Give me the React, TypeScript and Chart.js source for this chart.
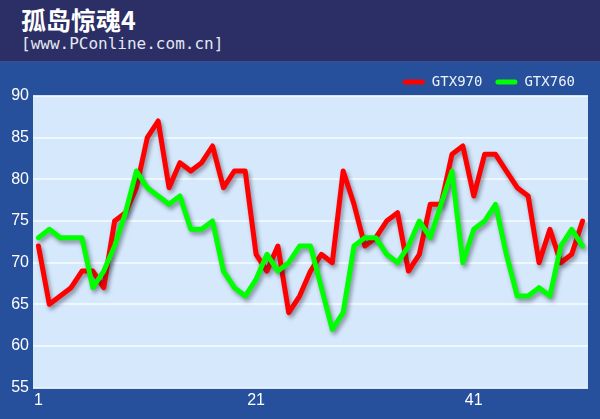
import React, { useEffect, useRef } from "react";
import { Chart, registerables } from "chart.js";

Chart.register(...registerables);

const TITLE = "孤岛惊魂4";
const SUBTITLE = "[www.PConline.com.cn]";

const categories = [
  "1", "2", "3", "4", "5", "6", "7", "8", "9", "10",
  "11", "12", "13", "14", "15", "16", "17", "18", "19", "20",
  "21", "22", "23", "24", "25", "26", "27", "28", "29", "30",
  "31", "32", "33", "34", "35", "36", "37", "38", "39", "40",
  "41", "42", "43", "44", "45", "46", "47", "48", "49", "50",
  "51",
];

const shownXTicks = ["1", "21", "41"];

const gtx970 = [
  72, 65, 66, 67, 69, 69, 67, 75, 76, 79,
  85, 87, 79, 82, 81, 82, 84, 79, 81, 81,
  71, 69, 72, 64, 66, 69, 71, 70, 81, 77,
  72, 73, 75, 76, 69, 71, 77, 77, 83, 84,
  78, 83, 83, 81, 79, 78, 70, 74, 70, 71,
  75,
];

const gtx760 = [
  73, 74, 73, 73, 73, 67, 69, 72, 76, 81,
  79, 78, 77, 78, 74, 74, 75, 69, 67, 66,
  68, 71, 69, 70, 72, 72, 67, 62, 64, 72,
  73, 73, 71, 70, 72, 75, 73, 77, 81, 70,
  74, 75, 77, 71, 66, 66, 67, 66, 72, 74,
  72,
];

const seriesNames = ["GTX970", "GTX760"];

const Y_MIN = 55;
const Y_MAX = 90;
const Y_STEP = 5;

const NAVY = "#2c2e66";
const FRAME = "#27509c";
const PLOT_BG = "#d6e9fc";

const plotBgPlugin = {
  id: "plotBg",
  beforeDraw(chart: any) {
    const { ctx, chartArea } = chart;
    if (!chartArea) return;
    ctx.save();
    ctx.fillStyle = PLOT_BG;
    ctx.fillRect(chartArea.left, chartArea.top, chartArea.right - chartArea.left, chartArea.bottom - chartArea.top);
    ctx.restore();
  },
};

const shadowPlugin = {
  id: "lineShadow",
  beforeDatasetDraw(chart: any) {
    const ctx = chart.ctx;
    ctx.save();
    ctx.shadowColor = "rgba(30,30,50,0.45)";
    ctx.shadowBlur = 4;
    ctx.shadowOffsetX = 2;
    ctx.shadowOffsetY = 3;
  },
  afterDatasetDraw(chart: any) {
    chart.ctx.restore();
  },
};

export default function App() {
  const canvasRef = useRef<HTMLCanvasElement | null>(null);

  useEffect(() => {
    if (!canvasRef.current) return;
    const chart = new Chart(canvasRef.current, {
      type: "line",
      data: {
        labels: categories,
        datasets: [
          {
            label: seriesNames[0],
            data: gtx970,
            borderColor: "#ff0000",
            backgroundColor: "#ff0000",
            borderWidth: 5,
            pointRadius: 0,
            tension: 0,
            borderJoinStyle: "round",
            borderCapStyle: "round",
            order: 1,
          },
          {
            label: seriesNames[1],
            data: gtx760,
            borderColor: "#00ff00",
            backgroundColor: "#00ff00",
            borderWidth: 5,
            pointRadius: 0,
            tension: 0,
            borderJoinStyle: "round",
            borderCapStyle: "round",
            order: 0,
          },
        ],
      },
      options: {
        animation: false,
        responsive: true,
        maintainAspectRatio: false,
        layout: { padding: { top: 0, right: 12, bottom: 0, left: 0 } },
        plugins: {
          title: { display: false },
          tooltip: { enabled: false },
          legend: {
            display: true,
            position: "top",
            align: "end",
            maxHeight: 34,
            labels: {
              color: "#eef2fa",
              font: { family: "'DejaVu Sans Mono', monospace", size: 14 },
              boxWidth: 22,
              boxHeight: 5,
              padding: 13,
              useBorderRadius: true,
              borderRadius: 2.5,
              sort: (a: any, b: any) => a.datasetIndex - b.datasetIndex,
              generateLabels: (c: any) =>
                Chart.defaults.plugins.legend.labels
                  .generateLabels(c)
                  .map((l: any) => ({ ...l, lineWidth: 0 })),
            },
          },
        },
        scales: {
          x: {
            type: "category",
            offset: true,
            grid: { display: false, drawTicks: false },
            border: { display: false },
            ticks: {
              autoSkip: false,
              maxRotation: 0,
              padding: 3,
              color: "#ffffff",
              font: { family: "'Liberation Sans', Arial, sans-serif", size: 16 },
              callback: (_v: any, i: number) =>
                shownXTicks.includes(categories[i]) ? categories[i] : null,
            },
            afterFit: (scale: any) => {
              scale.height = 31.3;
            },
          },
          y: {
            min: Y_MIN,
            max: Y_MAX,
            grid: { color: "rgba(245,250,255,0.85)", lineWidth: 2, drawTicks: false },
            border: { display: false },
            ticks: {
              stepSize: Y_STEP,
              padding: 4,
              color: "#ffffff",
              font: { family: "'Liberation Sans', Arial, sans-serif", size: 16 },
            },
            afterFit: (scale: any) => {
              scale.width = 33;
            },
          },
        },
      },
      plugins: [plotBgPlugin, shadowPlugin],
    });
    return () => chart.destroy();
  }, []);

  return (
    <div
      style={{
        position: "absolute",
        left: 0,
        top: 0,
        width: 600,
        height: 419,
        background: FRAME,
        overflow: "hidden",
      }}
    >
      <div
        style={{
          position: "absolute",
          left: 0,
          top: 0,
          width: 600,
          height: 61,
          background: NAVY,
          borderBottom: "1px solid #3e4f92",
        }}
      >
        <div
          style={{
            position: "absolute",
            left: 21,
            top: 4,
            color: "#ffffff",
            fontFamily: "'Noto Sans CJK SC', sans-serif",
            fontWeight: 700,
            fontSize: 25,
            lineHeight: "30px",
            whiteSpace: "nowrap",
          }}
        >
          {TITLE}
        </div>
        <div
          style={{
            position: "absolute",
            left: 21,
            top: 34,
            color: "#e4e8f2",
            fontFamily: "'DejaVu Sans Mono', monospace",
            fontSize: 16,
            lineHeight: "20px",
            whiteSpace: "nowrap",
          }}
        >
          {SUBTITLE}
        </div>
      </div>
      <div
        style={{
          position: "absolute",
          left: 0,
          top: 62,
          width: 600,
          height: 357,
        }}
      >
        <canvas ref={canvasRef} />
      </div>
    </div>
  );
}
